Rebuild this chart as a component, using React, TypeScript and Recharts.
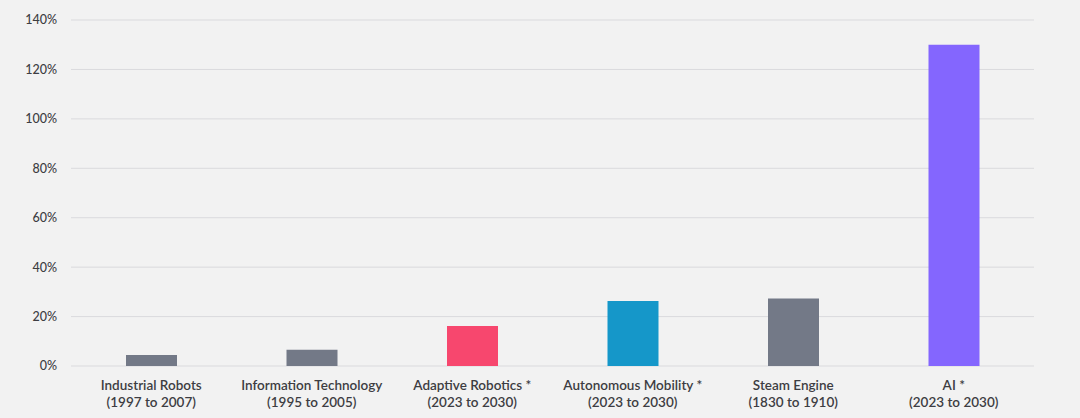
import { Bar, BarChart, CartesianGrid, Cell, XAxis, YAxis } from "recharts";

const categories = [
  "Industrial Robots",
  "Information Technology",
  "Adaptive Robotics *",
  "Autonomous Mobility  *",
  "Steam Engine",
  "AI *",
];
const periods = [
  "(1997 to 2007)",
  "(1995 to 2005)",
  "(2023 to 2030)",
  "(2023 to 2030)",
  "(1830 to 1910)",
  "(2023 to 2030)",
];
const growth = [4.5, 6.6, 16.2, 26.3, 27.3, 130];
const colors = ["#737987", "#737987", "#f7476e", "#1597c9", "#737987", "#8466fe"];
const yTicks = [0, 20, 40, 60, 80, 100, 120, 140];

const data = categories.map((name, i) => ({ name, period: periods[i], value: growth[i] }));

const FONT = "Lato, 'Noto Sans', sans-serif";

function CategoryTick({ x, y, payload, index }: any) {
  return (
    <text x={x} y={y} textAnchor="middle" fill="#3d3d42" fontFamily={FONT} fontSize={13.5} fontWeight={600}>
      <tspan x={x} dy={16}>{payload.value}</tspan>
      <tspan x={x} dy={17}>{periods[index]}</tspan>
    </text>
  );
}

export default function App() {
  return (
    <div style={{ position: "absolute", left: 0, top: 0, width: 1080, height: 418, background: "#f2f2f2" }}>
      <BarChart width={1080} height={418} data={data} margin={{ top: 20, right: 46, bottom: 0, left: 0 }}>
        <CartesianGrid vertical={false} stroke="#dadadd" strokeWidth={1} />
        <XAxis
          dataKey="name"
          axisLine={false}
          tickLine={false}
          interval={0}
          height={52}
          tick={<CategoryTick />}
        />
        <YAxis
          width={71}
          domain={[0, 140]}
          ticks={yTicks}
          axisLine={false}
          tickLine={false}
          tickMargin={8}
          tickFormatter={(v) => `${v}%`}
          tick={{ fill: "#3d3d42", fontSize: 12.5, fontFamily: FONT, fontWeight: 500 }}
        />
        <Bar dataKey="value" barSize={51} isAnimationActive={false}>
          {data.map((d, i) => (
            <Cell key={d.name} fill={colors[i]} />
          ))}
        </Bar>
      </BarChart>
    </div>
  );
}
